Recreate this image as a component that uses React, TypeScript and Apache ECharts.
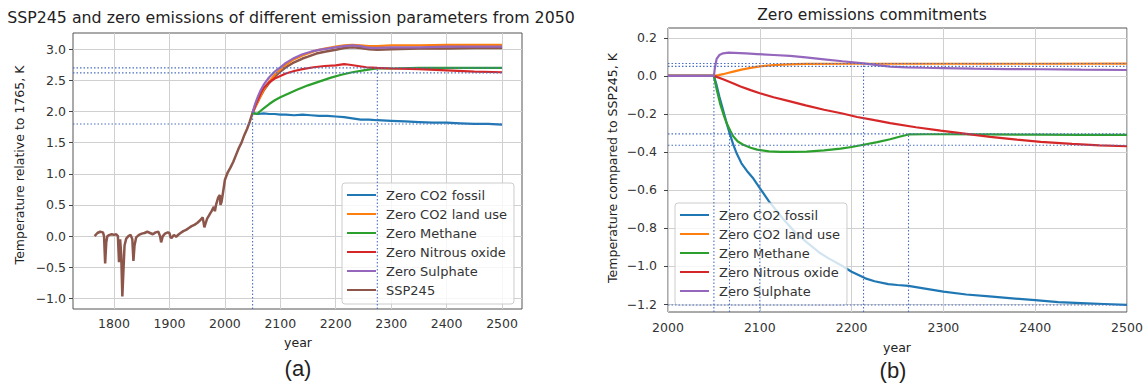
import React, { useEffect, useRef } from 'react';
import * as echarts from 'echarts';

const FONT = "'DejaVu Sans', sans-serif";

// ---- axis ticks ----
const xTicksA = [1800, 1900, 2000, 2100, 2200, 2300, 2400, 2500];
const yTicksA = [-1, -0.5, 0, 0.5, 1, 1.5, 2, 2.5, 3];
const xTicksB = [2000, 2100, 2200, 2300, 2400, 2500];
const yTicksB = [-1.2, -1, -0.8, -0.6, -0.4, -0.2, 0, 0.2];

const names = ['Zero CO2 fossil', 'Zero CO2 land use', 'Zero Methane', 'Zero Nitrous oxide', 'Zero Sulphate', 'SSP245'];
const colors = ['#1f77b4', '#ff7f0e', '#2ca02c', '#d62728', '#9467bd', '#8c564b'];

// ---- panel (a): absolute temperature ----
const sspYears = [1765, 1770, 1775, 1780, 1782, 1784, 1786, 1788, 1792, 1796, 1800, 1804, 1807, 1809, 1811, 1813, 1815, 1817, 1819, 1822, 1826, 1830, 1833, 1835, 1837, 1840, 1845, 1850, 1855, 1860, 1865, 1870, 1875, 1880, 1883, 1885, 1888, 1892, 1897, 1900, 1902, 1904, 1908, 1912, 1917, 1920, 1925, 1930, 1935, 1940, 1945, 1950, 1955, 1960, 1963, 1965, 1968, 1972, 1976, 1980, 1982, 1984, 1988, 1991, 1992, 1994, 1997, 2000, 2005, 2010, 2015, 2020, 2025, 2030, 2035, 2040, 2045, 2050, 2055, 2060, 2065, 2070, 2080, 2090, 2100, 2110, 2125, 2140, 2150, 2165, 2180, 2200, 2215, 2230, 2245, 2260, 2275, 2300, 2350, 2400, 2450, 2500];
const sspVals = [0.0, 0.05, 0.07, 0.06, 0.0, -0.44, -0.1, 0.0, 0.02, 0.03, 0.02, 0.03, 0.0, -0.42, -0.05, -0.3, -0.97, -0.55, -0.15, -0.04, 0.0, 0.02, -0.05, -0.4, -0.15, -0.02, 0.02, 0.04, 0.05, 0.07, 0.05, 0.03, 0.06, 0.07, 0.0, -0.1, 0.0, 0.04, 0.06, 0.05, -0.02, -0.03, 0.02, -0.01, 0.03, 0.05, 0.08, 0.1, 0.13, 0.16, 0.18, 0.21, 0.25, 0.3, 0.14, 0.2, 0.28, 0.34, 0.4, 0.47, 0.4, 0.5, 0.62, 0.66, 0.5, 0.55, 0.72, 0.9, 1.02, 1.1, 1.19, 1.3, 1.41, 1.5, 1.62, 1.72, 1.84, 1.98, 2.08, 2.17, 2.26, 2.34, 2.46, 2.56, 2.64, 2.71, 2.79, 2.85, 2.88, 2.93, 2.96, 2.99, 3.02, 3.03, 3.02, 3.0, 2.99, 3.0, 3.01, 3.01, 3.02, 3.02];

const fossilYearsA = [2050, 2053, 2060, 2070, 2080, 2090, 2100, 2110, 2125, 2140, 2155, 2170, 2185, 2200, 2215, 2230, 2245, 2260, 2275, 2300, 2325, 2350, 2375, 2400, 2425, 2450, 2475, 2500];
const fossilValsA = [1.98, 1.97, 1.96, 1.97, 1.96, 1.96, 1.95, 1.95, 1.94, 1.95, 1.94, 1.93, 1.93, 1.92, 1.91, 1.89, 1.87, 1.87, 1.86, 1.85, 1.84, 1.83, 1.82, 1.82, 1.81, 1.8, 1.8, 1.79];

const landYearsA = [2050, 2060, 2070, 2080, 2090, 2100, 2110, 2125, 2140, 2150, 2165, 2180, 2200, 2215, 2230, 2245, 2260, 2275, 2300, 2350, 2400, 2450, 2500];
const landValsA = [1.98, 2.17, 2.35, 2.48, 2.59, 2.67, 2.75, 2.84, 2.9, 2.93, 2.98, 3.01, 3.04, 3.06, 3.07, 3.06, 3.05, 3.05, 3.06, 3.06, 3.07, 3.07, 3.07];

const methYearsA = [2050, 2053, 2058, 2063, 2070, 2080, 2090, 2100, 2115, 2130, 2150, 2170, 2190, 2210, 2230, 2250, 2265, 2275, 2300, 2350, 2400, 2450, 2500];
const methValsA = [1.98, 1.97, 1.96, 2.0, 2.05, 2.12, 2.18, 2.23, 2.29, 2.35, 2.42, 2.48, 2.54, 2.59, 2.63, 2.66, 2.68, 2.69, 2.69, 2.7, 2.7, 2.7, 2.7];

const nitroYearsA = [2050, 2055, 2060, 2065, 2070, 2080, 2090, 2100, 2110, 2125, 2140, 2160, 2180, 2200, 2215, 2225, 2240, 2255, 2275, 2300, 2350, 2400, 2450, 2500];
const nitroValsA = [1.98, 2.1, 2.2, 2.3, 2.38, 2.47, 2.53, 2.57, 2.61, 2.65, 2.68, 2.71, 2.73, 2.74, 2.76, 2.75, 2.73, 2.71, 2.7, 2.69, 2.68, 2.66, 2.64, 2.63];

const sulphYearsA = [2050, 2053, 2056, 2060, 2065, 2070, 2080, 2090, 2100, 2110, 2125, 2140, 2155, 2170, 2185, 2200, 2215, 2230, 2245, 2255, 2265, 2275, 2300, 2350, 2400, 2450, 2500];
const sulphValsA = [1.98, 2.08, 2.16, 2.25, 2.35, 2.43, 2.55, 2.64, 2.71, 2.78, 2.86, 2.92, 2.96, 2.99, 3.01, 3.03, 3.05, 3.06, 3.05, 3.03, 3.02, 3.02, 3.03, 3.03, 3.04, 3.04, 3.04];

// reference (dotted) lines, panel (a)
const refLevelsA = [2.7, 2.62, 1.8];
const refLevelEndA = 2500;
const refYearsA = [2050, 2275];
const refYearTopsA = [2.0, 2.7];

// ---- panel (b): difference to SSP245 ----
const fossilYearsB = [2000, 2050, 2053, 2056, 2060, 2064, 2067, 2071, 2075, 2080, 2086, 2093, 2100, 2110, 2125, 2140, 2150, 2165, 2175, 2190, 2200, 2215, 2225, 2240, 2250, 2262, 2275, 2300, 2325, 2350, 2375, 2400, 2425, 2450, 2475, 2500];
const fossilValsB = [0, 0, -0.05, -0.11, -0.18, -0.25, -0.3, -0.36, -0.41, -0.46, -0.5, -0.54, -0.59, -0.66, -0.75, -0.83, -0.87, -0.93, -0.96, -1.0, -1.03, -1.065, -1.08, -1.095, -1.1, -1.105, -1.115, -1.135, -1.15, -1.16, -1.17, -1.18, -1.19, -1.195, -1.2, -1.205];

const landYearsB = [2000, 2050, 2055, 2060, 2065, 2070, 2080, 2090, 2100, 2115, 2130, 2150, 2200, 2300, 2400, 2500];
const landValsB = [0, 0, 0.004, 0.009, 0.015, 0.021, 0.033, 0.042, 0.05, 0.057, 0.061, 0.063, 0.064, 0.064, 0.064, 0.065];

const methYearsB = [2000, 2050, 2053, 2057, 2061, 2064, 2068, 2071, 2076, 2082, 2090, 2097, 2110, 2122, 2135, 2151, 2170, 2188, 2200, 2213, 2228, 2242, 2252, 2262, 2280, 2300, 2350, 2400, 2450, 2500];
const methValsB = [0, 0, -0.07, -0.15, -0.21, -0.25, -0.29, -0.318, -0.345, -0.362, -0.378, -0.388, -0.397, -0.4, -0.4, -0.398, -0.392, -0.383, -0.374, -0.362, -0.348, -0.333, -0.32, -0.308, -0.307, -0.307, -0.308, -0.309, -0.31, -0.31];

const nitroYearsB = [2000, 2050, 2060, 2070, 2079, 2090, 2100, 2115, 2133, 2150, 2170, 2190, 2206, 2225, 2242, 2270, 2297, 2325, 2351, 2380, 2406, 2440, 2470, 2500];
const nitroValsB = [0, 0, -0.018, -0.037, -0.056, -0.075, -0.091, -0.112, -0.134, -0.155, -0.178, -0.198, -0.216, -0.233, -0.248, -0.27, -0.288, -0.305, -0.321, -0.335, -0.347, -0.358, -0.365, -0.37];

const sulphYearsB = [2000, 2050, 2051, 2053, 2056, 2060, 2066, 2072, 2085, 2097, 2115, 2133, 2150, 2170, 2190, 2213, 2230, 2242, 2260, 2279, 2300, 2333, 2370, 2406, 2450, 2500];
const sulphValsB = [0, 0, 0.04, 0.09, 0.11, 0.119, 0.122, 0.121, 0.118, 0.115, 0.11, 0.105, 0.097, 0.087, 0.077, 0.066, 0.055, 0.049, 0.045, 0.043, 0.041, 0.038, 0.036, 0.035, 0.033, 0.031];

const refLevelsB = [0.065, 0.05, -0.305, -0.365, -1.205];
const refYearsB = [2050, 2067, 2100, 2213, 2262];
const refYearTopsB = [0, -0.305, -0.365, 0.065, -0.305];

// axis extents
const xMinA = 1726, xMaxA = 2536, yMinA = -1.17, yMaxA = 3.26;
const xMinB = 2000, xMaxB = 2500, yMinB = -1.242, yMaxB = 0.252;

const zip = (xs: number[], ys: number[]) => xs.map((x, i) => [x, ys[i]]);
const fmt1 = (v: number) => (v < -1e-9 ? '\u2212' : '') + Math.abs(v).toFixed(1);

const REF_COLOR = '#4a6fc2';
const GRID_COLOR = '#d0d0d0';
const TICK_COLOR = '#444';
const TEXT_COLOR = '#333';

function lineSeries(name: string, color: string, data: number[][], gi: number, width = 2.2, z = 3) {
  return {
    type: 'line', name, data, xAxisIndex: gi, yAxisIndex: gi,
    showSymbol: false, symbol: 'none', color, z,
    lineStyle: { color, width }, itemStyle: { color },
    emphasis: { disabled: true }, silent: true,
  };
}

function refSeries(data: number[][], gi: number) {
  return {
    type: 'line', data, xAxisIndex: gi, yAxisIndex: gi,
    showSymbol: false, symbol: 'none', silent: true, z: 4,
    lineStyle: { color: REF_COLOR, width: 1.1, type: [1.5, 2] },
    emphasis: { disabled: true },
  };
}

function gridMarkLine(xs: number[], ys: number[]) {
  return {
    silent: true, symbol: ['none', 'none'], z: 1, animation: false,
    label: { show: false },
    lineStyle: { color: GRID_COLOR, width: 1, type: 'solid' },
    emphasis: { disabled: true },
    data: [...xs.map((x) => ({ xAxis: x })), ...ys.map((y) => ({ yAxis: y }))],
  };
}

function xAxisOpt(gi: number, min: number, max: number, ticks: number[], margin: number) {
  return {
    gridIndex: gi, type: 'value', min, max,
    splitLine: { show: false },
    axisLine: { show: false },
    axisTick: { show: true, customValues: ticks, length: 4, lineStyle: { color: TICK_COLOR, width: 1 } },
    axisLabel: { customValues: ticks, margin, fontSize: 12.5, color: TEXT_COLOR, fontFamily: FONT, formatter: (v: number) => String(Math.round(v)) },
  };
}

function yAxisOpt(gi: number, min: number, max: number, ticks: number[], margin: number) {
  return {
    gridIndex: gi, type: 'value', min, max,
    splitLine: { show: false },
    axisLine: { show: false },
    axisTick: { show: true, customValues: ticks, length: 4, lineStyle: { color: TICK_COLOR, width: 1 } },
    axisLabel: { customValues: ticks, margin, fontSize: 12.5, color: TEXT_COLOR, fontFamily: FONT, formatter: fmt1 },
  };
}

function legendOpt(list: string[], left: number, top: number) {
  return {
    data: list.map((n) => ({ name: n, icon: 'rect' })),
    left, top, orient: 'vertical', selectedMode: false,
    itemWidth: 29, itemHeight: 2, itemGap: 5,
    padding: [5, 7, 7, 5],
    backgroundColor: 'rgba(255,255,255,0.8)', borderColor: '#cccccc', borderWidth: 1, borderRadius: 3,
    textStyle: { fontSize: 13, color: TEXT_COLOR, fontFamily: FONT, lineHeight: 14, padding: [0, 0, 0, 5] },
  };
}

export default function App() {
  const ref = useRef<HTMLDivElement>(null);
  useEffect(() => {
    if (!ref.current) return;
    const chart = echarts.init(ref.current, null, { renderer: 'svg' });

    const seriesA: any[] = [];
    const ssp = lineSeries('SSP245', colors[5], zip(sspYears, sspVals), 0, 2.5, 2);
    (ssp as any).markLine = gridMarkLine(xTicksA, yTicksA);
    seriesA.push(ssp);
    seriesA.push(lineSeries(names[0], colors[0], zip(fossilYearsA, fossilValsA), 0));
    seriesA.push(lineSeries(names[1], colors[1], zip(landYearsA, landValsA), 0));
    seriesA.push(lineSeries(names[2], colors[2], zip(methYearsA, methValsA), 0));
    seriesA.push(lineSeries(names[3], colors[3], zip(nitroYearsA, nitroValsA), 0));
    seriesA.push(lineSeries(names[4], colors[4], zip(sulphYearsA, sulphValsA), 0));
    refLevelsA.forEach((lv) => seriesA.push(refSeries([[xMinA, lv], [refLevelEndA, lv]], 0)));
    refYearsA.forEach((yr, i) => seriesA.push(refSeries([[yr, yMinA], [yr, refYearTopsA[i]]], 0)));

    const seriesB: any[] = [];
    const fb = lineSeries(names[0], colors[0], zip(fossilYearsB, fossilValsB), 1);
    (fb as any).markLine = gridMarkLine(xTicksB, yTicksB);
    seriesB.push(fb);
    seriesB.push(lineSeries(names[1], colors[1], zip(landYearsB, landValsB), 1));
    seriesB.push(lineSeries(names[2], colors[2], zip(methYearsB, methValsB), 1));
    seriesB.push(lineSeries(names[3], colors[3], zip(nitroYearsB, nitroValsB), 1));
    seriesB.push(lineSeries(names[4], colors[4], zip(sulphYearsB, sulphValsB), 1));
    refLevelsB.forEach((lv) => seriesB.push(refSeries([[xMinB, lv], [xMaxB, lv]], 1)));
    refYearsB.forEach((yr, i) => seriesB.push(refSeries([[yr, yMinB], [yr, refYearTopsB[i]]], 1)));

    const txt = (text: string, x: number, y: number, size: number, extra: any = {}) => ({
      type: 'text', x, y, silent: true, ...extra,
      style: { text, fontSize: size, fontFamily: extra.family || FONT, fill: '#222', align: 'center', verticalAlign: 'middle' },
    });

    chart.setOption({
      animation: false,
      backgroundColor: '#ffffff',
      grid: [
        { left: 73, top: 33, width: 449, height: 276, show: true, borderColor: '#555', borderWidth: 1, backgroundColor: 'transparent', containLabel: false },
        { left: 668, top: 28, width: 459, height: 284, show: true, borderColor: '#555', borderWidth: 1, backgroundColor: 'transparent', containLabel: false },
      ],
      xAxis: [xAxisOpt(0, xMinA, xMaxA, xTicksA, 8), xAxisOpt(1, xMinB, xMaxB, xTicksB, 9)],
      yAxis: [yAxisOpt(0, yMinA, yMaxA, yTicksA, 7), yAxisOpt(1, yMinB, yMaxB, yTicksB, 11)],
      legend: [legendOpt(names, 342, 183), legendOpt(names.slice(0, 5), 675, 203)],
      series: [...seriesA, ...seriesB],
      graphic: [
        txt('SSP245 and zero emissions of different emission parameters from 2050', 291, 17, 15.8),
        txt('Zero emissions commitments', 872, 15, 15.5),
        txt('Temperature relative to 1765, K', 19, 165, 12.5, { rotation: Math.PI / 2 }),
        txt('Temperature compared to SSP245, K', 612, 168, 12.5, { rotation: Math.PI / 2 }),
        txt('year', 298, 342, 12.5),
        txt('year', 897, 347, 12.5),
        txt('(a)', 298, 368, 22, { family: "'Liberation Sans', Arial, sans-serif" }),
        txt('(b)', 893, 370, 22, { family: "'Liberation Sans', Arial, sans-serif" }),
      ],
    });
    return () => chart.dispose();
  }, []);
  return <div ref={ref} style={{ position: 'absolute', left: 0, top: 0, width: 1147, height: 383, background: '#fff' }} />;
}
